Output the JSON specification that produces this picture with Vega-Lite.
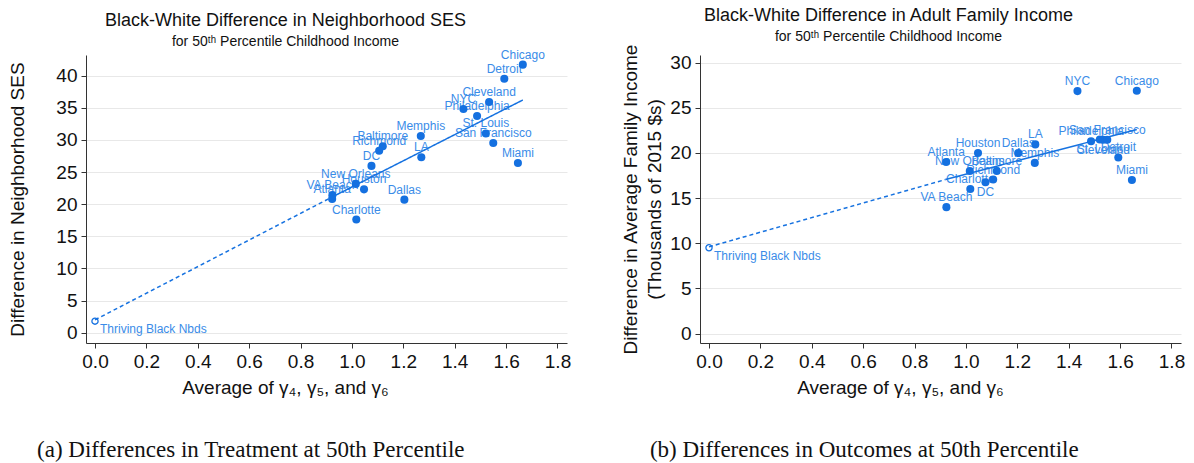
{
  "$schema": "https://vega.github.io/schema/vega-lite/v6.json",
  "background": "white",
  "padding": {"left": 8, "top": 6, "right": 5, "bottom": 5},
  "config": {
    "font": "Liberation Sans",
    "view": {"stroke": null},
    "concat": {"spacing": 50},
    "axis": {
      "labelFont": "Liberation Sans",
      "labelFontSize": 19,
      "labelColor": "#111111",
      "titleFont": "Liberation Sans",
      "titleFontSize": 19,
      "titleFontWeight": "normal",
      "titleColor": "#111111",
      "domainColor": "#333333",
      "tickColor": "#333333",
      "tickSize": 5,
      "labelPadding": 4,
      "gridColor": "#e8e8e8"
    },
    "title": {
      "font": "Liberation Sans",
      "fontSize": 18,
      "fontWeight": "normal",
      "color": "#111111",
      "subtitleFont": "Liberation Sans",
      "subtitleFontSize": 14,
      "subtitleColor": "#111111",
      "subtitlePadding": 5,
      "anchor": "middle"
    }
  },
  "datasets": {
    "cities": [
      {"city": "Chicago", "gamma": 1.665, "ses": 41.7, "income": 26.9},
      {"city": "Detroit", "gamma": 1.593, "ses": 39.5, "income": 19.5},
      {"city": "Cleveland", "gamma": 1.534, "ses": 35.9, "income": 21.47},
      {"city": "NYC", "gamma": 1.434, "ses": 34.8, "income": 26.85},
      {"city": "Philadelphia", "gamma": 1.487, "ses": 33.7, "income": 21.3},
      {"city": "St. Louis", "gamma": 1.521, "ses": 31.0, "income": 21.5},
      {"city": "San Francisco", "gamma": 1.55, "ses": 29.5, "income": 21.47},
      {"city": "Memphis", "gamma": 1.268, "ses": 30.6, "income": 18.9},
      {"city": "Baltimore", "gamma": 1.12, "ses": 29.0, "income": 18.0},
      {"city": "Richmond", "gamma": 1.106, "ses": 28.3, "income": 17.05},
      {"city": "LA", "gamma": 1.27, "ses": 27.3, "income": 20.95},
      {"city": "DC", "gamma": 1.076, "ses": 25.95, "income": 16.75},
      {"city": "Miami", "gamma": 1.646, "ses": 26.4, "income": 17.0},
      {"city": "New Orleans", "gamma": 1.015, "ses": 23.15, "income": 18.0},
      {"city": "Houston", "gamma": 1.047, "ses": 22.3, "income": 20.0},
      {"city": "VA Beach", "gamma": 0.924, "ses": 21.4, "income": 14.0},
      {"city": "Atlanta", "gamma": 0.923, "ses": 20.8, "income": 19.0},
      {"city": "Dallas", "gamma": 1.204, "ses": 20.7, "income": 20.0},
      {"city": "Charlotte", "gamma": 1.017, "ses": 17.6, "income": 16.0},
      {"city": "Thriving Black Nbds", "gamma": 0, "ses": 1.8, "income": 9.5}
    ],
    "fit": [
      {"seg": "extrapolated", "gamma": 0, "ses": 2.0, "income": 9.6},
      {"seg": "extrapolated", "gamma": 0.92, "ses": 21.05, "income": 17.05},
      {"seg": "fitted", "gamma": 0.92, "ses": 21.05, "income": 17.05},
      {"seg": "fitted", "gamma": 1.665, "ses": 36.2, "income": 22.6}
    ]
  },
  "hconcat": [
    {
      "title": {
        "text": "(a) Differences in Treatment at 50th Percentile",
        "orient": "bottom",
        "font": "Liberation Serif",
        "fontSize": 23,
        "fontWeight": "normal",
        "color": "#111111",
        "offset": 42,
        "dx": -39
      },
      "vconcat": [
        {
          "width": 481,
          "height": 288,
          "title": {
            "text": "Black-White Difference in Neighborhood SES",
            "subtitle": "for 50ᵗʰ Percentile Childhood Income",
            "offset": 0,
            "dx": -41
          },
          "data": {"name": "cities"},
          "encoding": {
            "x": {
              "field": "gamma",
              "type": "quantitative",
              "scale": {"domain": [-0.035, 1.837], "nice": false, "zero": false},
              "axis": {
                "values": [0, 0.2, 0.4, 0.6, 0.8, 1.0, 1.2, 1.4, 1.6, 1.8],
                "format": ".1f",
                "grid": false,
                "title": "Average of γ₄, γ₅, and γ₆",
                "titleX": 199,
                "titlePadding": 7
              }
            },
            "y": {
              "field": "ses",
              "type": "quantitative",
              "scale": {"domain": [-1.6, 43.2], "nice": false, "zero": false},
              "axis": {
                "values": [0, 5, 10, 15, 20, 25, 30, 35, 40],
                "grid": true,
                "title": "Difference in Neighborhood SES",
                "titlePadding": 28
              }
            }
          },
          "layer": [
            {
              "transform": [{"filter": "datum.city !== 'Thriving Black Nbds'"}],
              "mark": {"type": "text", "baseline": "alphabetic", "dy": -6, "fontSize": 12, "font": "Liberation Sans", "color": "#3a8ce8"},
              "encoding": {"text": {"field": "city"}}
            },
            {
              "transform": [{"filter": "datum.city === 'Thriving Black Nbds'"}],
              "mark": {"type": "text", "align": "left", "baseline": "middle", "dx": 5, "dy": 8, "fontSize": 12, "font": "Liberation Sans", "color": "#3a8ce8"},
              "encoding": {"text": {"field": "city"}}
            },
            {
              "data": {"name": "fit"},
              "mark": {"type": "line", "color": "#1672e0", "strokeWidth": 1.5},
              "encoding": {
                "strokeDash": {
                  "field": "seg",
                  "type": "nominal",
                  "scale": {"domain": ["fitted", "extrapolated"], "range": [[1, 0], [4, 3]]},
                  "legend": null
                }
              }
            },
            {
              "transform": [{"filter": "datum.city !== 'Thriving Black Nbds'"}],
              "mark": {"type": "circle", "size": 65, "color": "#1470e0", "opacity": 1}
            },
            {
              "transform": [{"filter": "datum.city === 'Thriving Black Nbds'"}],
              "mark": {"type": "point", "shape": "circle", "filled": false, "size": 38, "strokeWidth": 1.3, "color": "#1470e0", "opacity": 1}
            }
          ]
        }
      ]
    },
    {
      "title": {
        "text": "(b) Differences in Outcomes at 50th Percentile",
        "orient": "bottom",
        "font": "Liberation Serif",
        "fontSize": 23,
        "fontWeight": "normal",
        "color": "#111111",
        "offset": 42,
        "dx": -39
      },
      "vconcat": [
        {
          "width": 481,
          "height": 288,
          "title": {
            "text": "Black-White Difference in Adult Family Income",
            "subtitle": "for 50ᵗʰ Percentile Childhood Income",
            "offset": 0,
            "dx": -52
          },
          "data": {"name": "cities"},
          "encoding": {
            "x": {
              "field": "gamma",
              "type": "quantitative",
              "scale": {"domain": [-0.035, 1.837], "nice": false, "zero": false},
              "axis": {
                "values": [0, 0.2, 0.4, 0.6, 0.8, 1.0, 1.2, 1.4, 1.6, 1.8],
                "format": ".1f",
                "grid": false,
                "title": "Average of γ₄, γ₅, and γ₆",
                "titleX": 200,
                "titlePadding": 7
              }
            },
            "y": {
              "field": "income",
              "type": "quantitative",
              "scale": {"domain": [-1.05, 30.85], "nice": false, "zero": false},
              "axis": {
                "values": [0, 5, 10, 15, 20, 25, 30],
                "grid": true,
                "title": ["Difference in Average Family Income", "(Thousands of 2015 $s)"],
                "titleLineHeight": 24,
                "titlePadding": 5
              }
            }
          },
          "layer": [
            {
              "transform": [{"filter": "datum.city !== 'Thriving Black Nbds' && indexof(['DC', 'St. Louis', 'Cleveland'], datum.city) < 0"}],
              "mark": {"type": "text", "baseline": "alphabetic", "dy": -6, "fontSize": 12, "font": "Liberation Sans", "color": "#3a8ce8"},
              "encoding": {"text": {"field": "city"}}
            },
            {
              "transform": [{"filter": "indexof(['DC', 'St. Louis', 'Cleveland'], datum.city) >= 0"}],
              "mark": {"type": "text", "baseline": "alphabetic", "dy": 14, "fontSize": 12, "font": "Liberation Sans", "color": "#3a8ce8"},
              "encoding": {"text": {"field": "city"}}
            },
            {
              "transform": [{"filter": "datum.city === 'Thriving Black Nbds'"}],
              "mark": {"type": "text", "align": "left", "baseline": "middle", "dx": 5, "dy": 8, "fontSize": 12, "font": "Liberation Sans", "color": "#3a8ce8"},
              "encoding": {"text": {"field": "city"}}
            },
            {
              "data": {"name": "fit"},
              "mark": {"type": "line", "color": "#1672e0", "strokeWidth": 1.5},
              "encoding": {
                "strokeDash": {
                  "field": "seg",
                  "type": "nominal",
                  "scale": {"domain": ["fitted", "extrapolated"], "range": [[1, 0], [4, 3]]},
                  "legend": null
                }
              }
            },
            {
              "transform": [{"filter": "datum.city !== 'Thriving Black Nbds'"}],
              "mark": {"type": "circle", "size": 65, "color": "#1470e0", "opacity": 1}
            },
            {
              "transform": [{"filter": "datum.city === 'Thriving Black Nbds'"}],
              "mark": {"type": "point", "shape": "circle", "filled": false, "size": 38, "strokeWidth": 1.3, "color": "#1470e0", "opacity": 1}
            }
          ]
        }
      ]
    }
  ]
}
